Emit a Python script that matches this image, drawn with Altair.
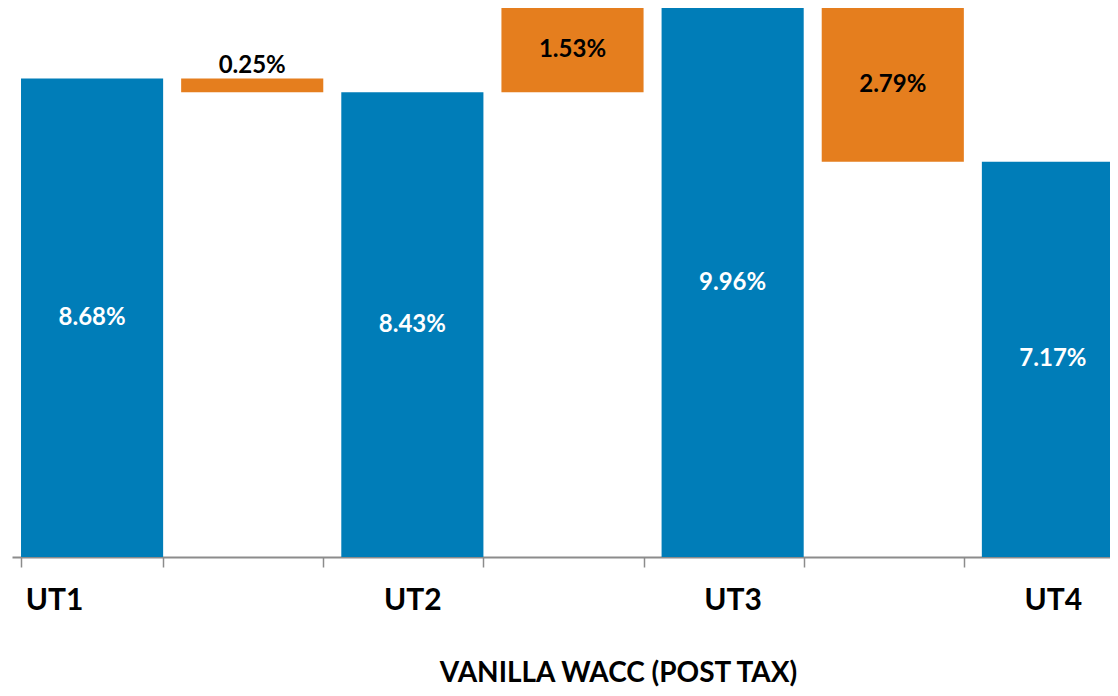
import altair as alt
import pandas as pd

categories = ["UT1", "d1", "UT2", "d2", "UT3", "d3", "UT4"]
totals = [8.68, 8.43, 9.96, 7.17]
changes = [0.25, 1.53, 2.79]

BLUE = "#007DB8"
ORANGE = "#E57E1E"
FONT = "Lato"

rows = []
ti = 0
ci = 0
for i, c in enumerate(categories):
    if c.startswith("UT"):
        v = totals[ti]
        rows.append(dict(cat=c, kind="total", start=0.0, end=v, val=v))
        ti += 1
    else:
        a = totals[ci]
        b = totals[ci + 1]
        rows.append(dict(cat=c, kind="change", start=min(a, b), end=max(a, b), val=changes[ci]))
        ci += 1
df = pd.DataFrame(rows)
df["mid"] = (df["start"] + df["end"]) / 2
df["label"] = df["val"].map(lambda v: f"{v:.2f}%")
df["small"] = (df["end"] - df["start"]) < 0.5

xscale = alt.Scale(domain=categories, range=[0, 1121], paddingInner=0.1125, paddingOuter=0.05625)
xenc = alt.X(
    "cat:N",
    sort=categories,
    scale=xscale,
    axis=alt.Axis(
        title="VANILLA WACC (POST TAX)",
        labelExpr="indexof(datum.label,'UT')===0 ? datum.label : ''",
        labelAngle=0,
        labelFont=FONT,
        labelFontSize=30,
        labelFontWeight="bold",
        labelColor="#000000",
        labelPadding=18,
        labelOffset={"condition": {"test": "datum.value === 'UT1'", "value": -38}, "value": 0},
        tickBand="extent",
        tickSize=10,
        tickColor="#8C8C8C",
        tickWidth=1.5,
        domainColor="#8C8C8C",
        domainWidth=2,
        titleFont=FONT,
        titleFontSize=28,
        titleFontWeight="bold",
        titleColor="#000000",
        titleX=606,
        titleY=124,
        titleAlign="center",
        titleBaseline="alphabetic",
    ),
)
yscale = alt.Scale(domain=[0, 9.96], nice=False, zero=True)

bars = alt.Chart(df).mark_bar(stroke=None).encode(
    x=xenc,
    y=alt.Y("start:Q", scale=yscale, axis=None),
    y2="end:Q",
    color=alt.Color("kind:N", scale=alt.Scale(domain=["total", "change"], range=[BLUE, ORANGE]), legend=None),
)

total_text = alt.Chart(df).transform_filter("datum.kind === 'total'").mark_text(
    font=FONT, fontSize=24, fontWeight="bold", color="white", baseline="middle"
).encode(x=alt.X("cat:N", sort=categories), y=alt.Y("mid:Q", scale=yscale), text="label:N")

change_text = alt.Chart(df).transform_filter("datum.kind === 'change' && !datum.small").mark_text(
    font=FONT, fontSize=24, fontWeight="bold", color="black", baseline="middle"
).encode(x=alt.X("cat:N", sort=categories), y=alt.Y("mid:Q", scale=yscale), text="label:N")

small_text = alt.Chart(df).transform_filter("datum.kind === 'change' && datum.small").mark_text(
    font=FONT, fontSize=24, fontWeight="bold", color="black", baseline="alphabetic", dy=-6
).encode(x=alt.X("cat:N", sort=categories), y=alt.Y("end:Q", scale=yscale), text="label:N")

chart = alt.layer(bars, total_text, change_text, small_text).properties(
    width=1098, height=549,
    autosize=alt.AutoSizeParams(type="none"),
    padding={"left": 4, "top": 0, "right": 0, "bottom": 131},
).configure_view(stroke=None)

chart.save("out.html", embed_options={"renderer": "svg", "actions": False})
